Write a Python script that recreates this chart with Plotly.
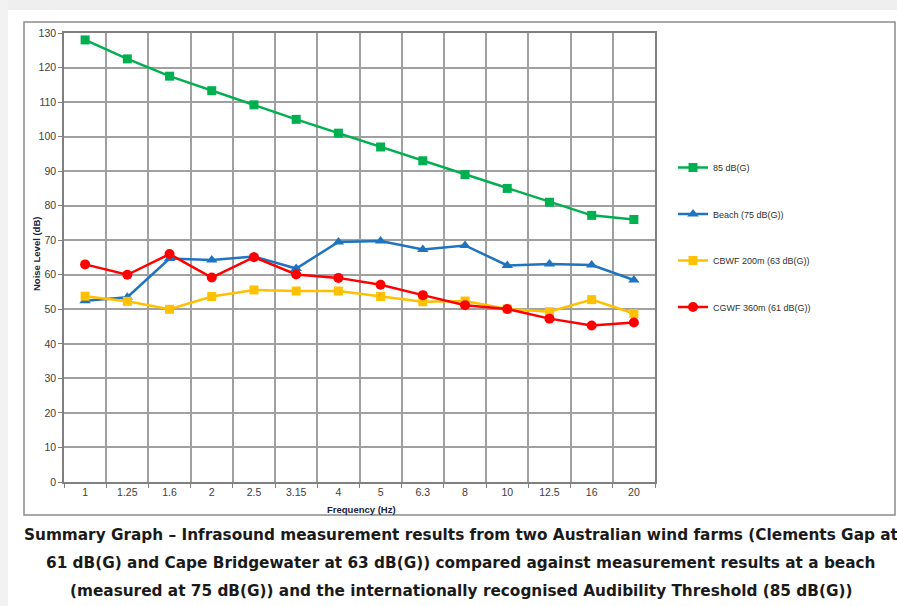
import plotly.graph_objects as go

freq = ["1", "1.25", "1.6", "2", "2.5", "3.15", "4", "5", "6.3", "8", "10", "12.5", "16", "20"]
thr85 = [128, 122.5, 117.5, 113.3, 109.2, 105, 101, 97, 93, 89, 85, 81, 77.2, 76]
beach = [52.5, 53.5, 64.7, 64.3, 65.3, 61.8, 69.5, 69.8, 67.3, 68.5, 62.7, 63.1, 62.8, 58.5]
cbwf = [53.8, 52.3, 50.0, 53.7, 55.6, 55.3, 55.3, 53.7, 52.2, 52.4, 50.1, 49.3, 52.8, 48.8]
cgwf = [63.0, 60.0, 66.0, 59.2, 65.1, 60.1, 59.1, 57.1, 54.1, 51.2, 50.1, 47.3, 45.3, 46.2]

series = [
    ("85 dB(G)", thr85, "#00b050", "square", 9),
    ("Beach (75 dB(G))", beach, "#1f74c0", "triangle-up", 10),
    ("CBWF 200m (63 dB(G))", cbwf, "#ffc000", "square", 9),
    ("CGWF 360m (61 dB(G))", cgwf, "#ff0000", "circle", 10),
]

fig = go.Figure()
for i, (name, vals, col, sym, sz) in enumerate(series):
    fig.add_trace(go.Scatter(
        x=freq, y=vals, name=name, mode="lines+markers",
        line=dict(color=col, width=2.5),
        marker=dict(symbol=sym, size=sz, color=col),
        legendgroup=str(i),
    ))

W, H = 897, 606
L, R, T, B = 64, 242, 33, 124
pw, ph = W - L - R, H - T - B

def px(x):
    return (x - L) / pw

def py(y):
    return (H - B - y) / ph

grid = "#a0a0a0"
fig.update_layout(
    width=W, height=H,
    margin=dict(l=L, r=R, t=T, b=B),
    paper_bgcolor="white", plot_bgcolor="white",
    font=dict(family="Liberation Sans, Arial, sans-serif", color="#404040"),
    showlegend=True,
    legend=dict(x=px(673), y=py(153), xanchor="left", yanchor="top",
                font=dict(size=9, color="#303030"), tracegroupgap=27.5,
                bgcolor="rgba(0,0,0,0)", itemwidth=30),
    xaxis=dict(type="category", tickson="boundaries", ticks="outside", ticklen=4,
               tickcolor="#808080", showgrid=True, gridcolor=grid, gridwidth=1.5,
               showline=True, linecolor="#808080", linewidth=1.5, mirror=True,
               tickfont=dict(size=10.5, color="#404040"), range=[-0.5, 13.5]),
    yaxis=dict(range=[0, 130], dtick=10, ticks="outside", ticklen=4, tickcolor="#808080",
               showgrid=True, gridcolor=grid, gridwidth=1.5, zeroline=False,
               showline=True, linecolor="#808080", linewidth=1.5, mirror=True,
               tickfont=dict(size=10.5, color="#404040")),
)

shapes = [
    dict(type="rect", xref="paper", yref="paper", x0=px(-2), x1=px(W + 2), y0=py(-2), y1=py(10),
         fillcolor="#efefef", line=dict(width=0), layer="below"),
    dict(type="rect", xref="paper", yref="paper", x0=px(-2), x1=px(8), y0=py(H + 2), y1=py(-2),
         fillcolor="#f2f2f2", line=dict(width=0), layer="below"),
    dict(type="rect", xref="paper", yref="paper", x0=px(24), x1=px(895), y0=py(515), y1=py(22),
         fillcolor="rgba(0,0,0,0)", line=dict(color="#8c8c8c", width=1.5)),
]
fig.update_layout(shapes=shapes)

ann = [
    dict(text="<b>Frequency (Hz)</b>", x=px(361), y=py(509), font=dict(size=9.5, color="#202040")),
    dict(text="<b>Noise Level (dB)</b>", x=px(36), y=py(254), textangle=-90,
         font=dict(size=9.5, color="#202040")),
]
caption = [
    "Summary Graph \u2013 Infrasound measurement results from two Australian wind farms (Clements Gap at",
    "61 dB(G) and Cape Bridgewater at 63 dB(G)) compared against measurement results at a beach",
    "(measured at 75 dB(G)) and the internationally recognised Audibility Threshold (85 dB(G))",
]
for k, line in enumerate(caption):
    ann.append(dict(text="<b>" + line + "</b>", x=px(461), y=py(535 + 28 * k),
                    font=dict(size=15.3, color="#1a1a1a", family="DejaVu Sans, Arial")))
for a in ann:
    a.update(xref="paper", yref="paper", showarrow=False, xanchor="center", yanchor="middle")
fig.update_layout(annotations=ann)

fig.write_html("out.html", config={"displayModeBar": False},
               post_script="document.body.style.margin='0';document.body.style.overflow='hidden';")
